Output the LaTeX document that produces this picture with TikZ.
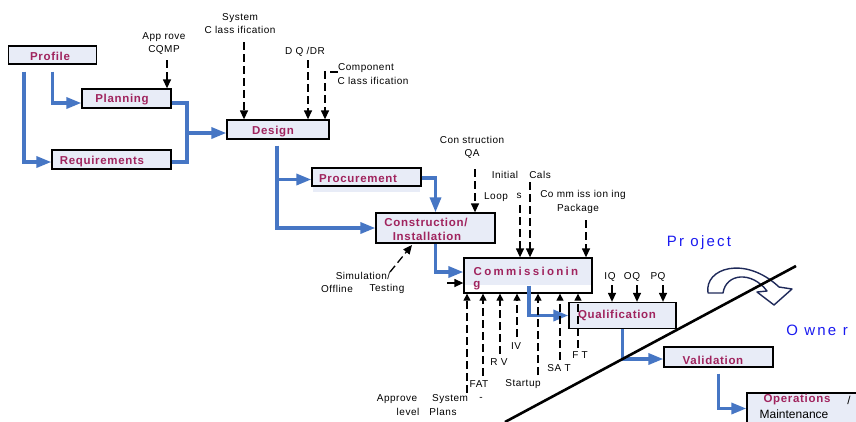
\documentclass[tikz,border=0pt]{standalone}
\usepackage{fontspec}
\setmainfont{Liberation Sans}
\newfontfamily\boxfont[LetterSpace=6]{Liberation Sans}
\newfontfamily\commfont[LetterSpace=20]{Liberation Sans}
\newfontfamily\smallfont[LetterSpace=5]{Liberation Sans}
\newfontfamily\widefont[LetterSpace=15]{Liberation Sans}
\usetikzlibrary{arrows.meta}
\definecolor{boxfill}{HTML}{E8ECF7}
\definecolor{maroon}{HTML}{A0245E}
\definecolor{flowblue}{HTML}{4676C4}
\definecolor{projblue}{HTML}{1A1AF0}
\definecolor{navy}{HTML}{1F2A5A}
\tikzset{
 pbox/.style={draw=black, line width=1.3pt, fill=boxfill, inner sep=0pt},
 blab/.style={font=\boxfont\fontsize{11.5}{14}\selectfont\bfseries, text=maroon, inner sep=0pt},
 slab/.style={font=\smallfont\fontsize{10}{13}\selectfont, inner sep=0pt, align=center},
 flow/.style={draw=flowblue, line width=3.3pt, -{Triangle[length=15pt,width=11pt]}},
 flown/.style={draw=flowblue, line width=3.3pt},
 dasharr/.style={line width=1.3pt, dash pattern=on 8pt off 4pt, -{Triangle[length=9pt,width=8pt]}},
 dashup/.style={line width=1.2pt, dash pattern=on 8pt off 4pt, -{Triangle[length=7pt,width=7pt]}},
 solarr/.style={line width=1.3pt, -{Triangle[length=9pt,width=8pt]}},
}
\begin{document}
\begin{tikzpicture}[x=1pt,y=-1pt]
\useasboundingbox (0,0) rectangle (856,421);
\clip (0,0) rectangle (856,421);
\fill[white] (0,0) rectangle (856,421);

% boxes
\node[pbox, minimum width=88pt, minimum height=18pt] (profile) at (52.5,55) {};
\node[pbox, minimum width=89pt, minimum height=19pt] (planning) at (126.5,98.5) {};
\node[pbox, minimum width=119pt, minimum height=19pt] (req) at (111.5,159.5) {};
\node[pbox, minimum width=102pt, minimum height=19pt] (design) at (278,129.5) {};
\fill[boxfill] (313,187) rectangle (420,192);
\node[pbox, minimum width=109pt, minimum height=18pt] (proc) at (366.5,177) {};
\node[pbox, minimum width=119pt, minimum height=30pt] (constr) at (435.5,228) {};
\fill[boxfill] (464,258) rectangle (592,285);
\node[pbox, fill=none, minimum width=128pt, minimum height=35pt] (comm) at (528,275.5) {};
\node[pbox, minimum width=107pt, minimum height=26pt] (qual) at (622.5,315.5) {};
\node[pbox, minimum width=109pt, minimum height=20pt] (val) at (718.5,357) {};
\node[pbox, minimum width=123pt, minimum height=31pt] (ops) at (808.5,408.5) {};

% box labels
\node[blab] (tprofile) at (50,56) {Profile};
\node[blab] (tplanning) at (122,100) {Planning};
\node[blab] (treq) at (102,162) {Requirements};
\node[blab] (tdesign) at (273,132) {Design};
\node[blab] (tproc) at (358,179) {Procurement};
\node[blab] (tconstr1) at (426,222) {Construction/};
\node[blab] (tconstr2) at (427,236) {Installation};
\node[blab, font=\commfont\fontsize{11.5}{14}\selectfont\bfseries] (tcomm1) at (526,271) {Commissionin};
\node[blab] (tcomm2) at (477,286) {g};
\node[blab] (tqual) at (617,315) {Qualification};
\node[blab] (tval) at (713,360) {Validation};
\node[blab] (tops1) at (797,400) {Operations};
\node[font=\fontsize{11.5}{14}\selectfont, inner sep=0pt] (tops3) at (849,400) {/};
\node[font=\fontsize{12}{14}\selectfont, inner sep=0pt] (tops2) at (794,414) {Maintenance};

% blue flow connectors
\coordinate (j1) at (187,133);
\draw[flow] ([yshift=-7pt]profile.south) |- ([yshift=-4.5pt]planning.west);
\draw[flow] ([xshift=-28.5pt,yshift=-7pt]profile.south) |- ([yshift=-2.5pt]req.west);
\draw[flown] ([yshift=-4.5pt]planning.east) -| (j1);
\draw[flown] ([yshift=-2.5pt]req.east) -| (j1);
\draw[flow] (j1) -- (design.west |- j1);
\coordinate (pj) at ([yshift=-2.5pt]proc.west);
\draw[flow] ([xshift=-1pt,yshift=-6pt]design.south) |- (constr.west);
\draw[flow] ([xshift=-1pt]design.south |- pj) -- (pj);
\draw[flow] ([yshift=-1pt]proc.east) -| (constr.north);
\draw[flow] (constr.south) |- ([yshift=3.5pt]comm.west);
\draw[flow] ([xshift=1pt,yshift=8pt]comm.south) |- (qual.west);
\draw[flow] (qual.south) |- ([yshift=-2pt]val.west);
\draw[flow] ([yshift=-6pt]val.south) |- (ops.west);

% small labels
\node[slab] (cqmp) at (164,43.5) {App rove\\CQMP};
\node[slab] (sysc) at (240,24) {System\\C lass ification};
\node[slab] (dqdr) at (305,52) {D Q /DR};
\node[slab] (comp1) at (366,68) {Component};
\node[slab] (comp2) at (373,81) {C lass ification};
\node[slab] (cqa) at (472,147) {Con struction\\QA};
\node[slab] (init) at (505,175) {Initial};
\node[slab] (cals) at (540,175) {Cals};
\node[slab] (loop) at (496,197) {Loop};
\node[slab] (loops) at (519,196) {s};
\node[slab] (cpkg1) at (583,195) {Co mm iss ion ing};
\node[slab] (cpkg2) at (578,209) {Package};
\node[slab] (sim1) at (363,276) {Simulation/};
\node[slab] (sim2) at (337,289) {Offline};
\node[slab] (sim3) at (387,289) {Testing};
\node[slab] (appr) at (397,399) {Approve};
\node[slab] (level) at (408,412) {level};
\node[slab] (syst) at (450,399) {System};
\node[slab] (dash) at (481,399) {-};
\node[slab] (plans) at (443,412) {Plans};
\node[slab] (fat) at (479,384) {FAT};
\node[slab] (rv) at (499,362) {R V};
\node[slab] (iv) at (516,346) {IV};
\node[slab] (startup) at (523,384) {Startup};
\node[slab] (sat) at (559,368) {SA T};
\node[slab] (ft) at (580,355) {F T};
\node[slab] (iq) at (610,277) {IQ};
\node[slab] (oq) at (632,277) {OQ};
\node[slab] (pq) at (658,277) {PQ};

% dashed input arrows
\coordinate (a1) at (167,60);
\coordinate (a2) at (244,42);
\coordinate (a3) at (308,60);
\coordinate (a4) at (325,72);
\coordinate (a5) at (475,169);
\coordinate (a6) at (520,205);
\coordinate (a7) at (530,182);
\coordinate (a8) at (586,220);
\coordinate (a9) at (390,272);
\coordinate (a9e) at (412,245);
\draw[dasharr] (a1) -- (a1 |- planning.north);
\draw[dasharr] (a2) -- (a2 |- design.north);
\draw[dasharr] (a3) -- (a3 |- design.north);
\draw[dasharr] (comp1.west |- a4) -- (a4) -- (a4 |- design.north);
\draw[dasharr] (a5) -- (a5 |- constr.north);
\draw[dasharr] (a6) -- (a6 |- comm.north);
\draw[dasharr] (a7) -- (a7 |- comm.north);
\draw[dasharr] (a8) -- (a8 |- comm.north);
\draw[dasharr] (a9) -- (a9e);
\coordinate (a10) at (447,283);
\draw[solarr] (a10) -- (comm.west |- a10);

% upward dashed arrows
\foreach \n/\x/\y in {b1/467/393, b2/483/376, b3/500/354, b4/517/337, b5/538/375, b6/560/360, b7/578/348} {
  \coordinate (\n) at (\x,\y);
  \draw[dashup] (\n) -- (\n |- comm.south);
}

% IQ OQ PQ
\coordinate (q1) at (612,285);
\coordinate (q2) at (637,285);
\coordinate (q3) at (663,285);
\draw[solarr] (q1) -- (q1 |- qual.north);
\draw[solarr] (q2) -- (q2 |- qual.north);
\draw[solarr] (q3) -- (q3 |- qual.north);

% curved block arrow
\draw[navy, line width=1.4pt, fill=white, line join=round]
  (708,293) .. controls (704,268) and (745,255) .. (779,287)
  -- (792,289) -- (774,305) -- (757,292) -- (767,291)
  .. controls (752,271) and (726,273) .. (723,293) -- cycle;

% boundary line
\draw[line width=2.6pt] (505,422) -- (796,266);

% Project / Owner
\node[font=\widefont\fontsize{15}{18}\selectfont, text=projblue, inner sep=0pt] (proj) at (699,243) {Pr oject};
\node[font=\widefont\fontsize{15}{18}\selectfont, text=projblue, inner sep=0pt] (owner) at (817,330) {O wne r};
\end{tikzpicture}
\end{document}
